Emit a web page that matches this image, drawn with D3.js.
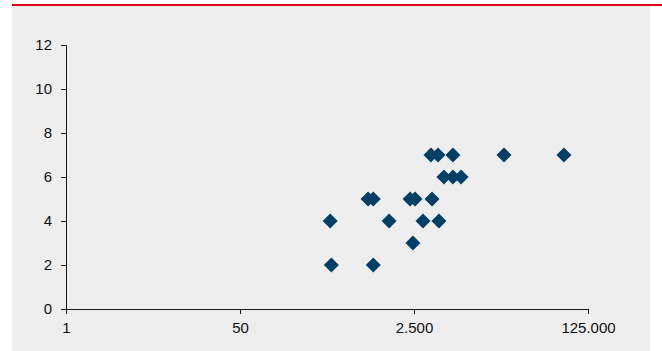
<!DOCTYPE html>
<html>
<head>
<meta charset="utf-8">
<script src="https://cdn.jsdelivr.net/npm/d3@7"></script>
<style>
html, body { margin: 0; padding: 0; background: #ffffff; }
svg { display: block; }
text { font-family: "Liberation Sans", Arial, sans-serif; }
</style>
</head>
<body>
<svg id="chart" width="662" height="351"></svg>
<script>
// Data (x on a base-50 log scale, y linear)
const xValues = [3660, 4290, 6000, 18900, 72800,
                 4900, 6000, 7200,
                 890, 1000, 2290, 2560, 3750,
                 380, 1430, 3060, 4380,
                 2440,
                 390, 1000];
const yValues = [7, 7, 7, 7, 7,
                 6, 6, 6,
                 5, 5, 5, 5, 5,
                 4, 4, 4, 4,
                 3,
                 2, 2];
const xTickValues = [1, 50, 2500, 125000];
const xTickLabels = ["1", "50", "2.500", "125.000"];
const yTickValues = [0, 2, 4, 6, 8, 10, 12];

const svg = d3.select("#chart");
const W = 662, H = 351;

// panel background and red top rule
svg.append("rect").attr("x", 12).attr("y", 4).attr("width", W - 24).attr("height", H - 4).attr("fill", "#eeeeee");
svg.append("rect").attr("x", 12).attr("y", 4).attr("width", W - 12).attr("height", 2).attr("fill", "#e2001a");

const x = d3.scaleLog().base(50).domain([1, 125000]).range([66, 588]);
const y = d3.scaleLinear().domain([0, 12]).range([309, 45]);

const yAxis = d3.axisLeft(y).tickValues(yTickValues).tickSize(5).tickPadding(9).tickFormat(d3.format("d"));
const xAxis = d3.axisBottom(x).tickValues(xTickValues).tickSize(5).tickPadding(8)
  .tickFormat((d, i) => xTickLabels[i]);

const gy = svg.append("g").attr("transform", "translate(66,0)").call(yAxis);
const gx = svg.append("g").attr("transform", "translate(0,309)").call(xAxis);

[gx, gy].forEach(g => {
  g.selectAll("path, line").attr("stroke", "#1a1a1a").attr("stroke-width", 1);
  g.selectAll("text").attr("fill", "#111111").style("font-size", "15px")
    .style("font-family", "'Liberation Sans', Arial, sans-serif");
});

const diamond = "M0,-7.5L7.5,0L0,7.5L-7.5,0Z";
svg.append("g").selectAll("path")
  .data(xValues.map((v, i) => [v, yValues[i]]))
  .join("path")
  .attr("d", diamond)
  .attr("transform", d => `translate(${x(d[0])},${y(d[1])})`)
  .attr("fill", "#003f66");
</script>
</body>
</html>
